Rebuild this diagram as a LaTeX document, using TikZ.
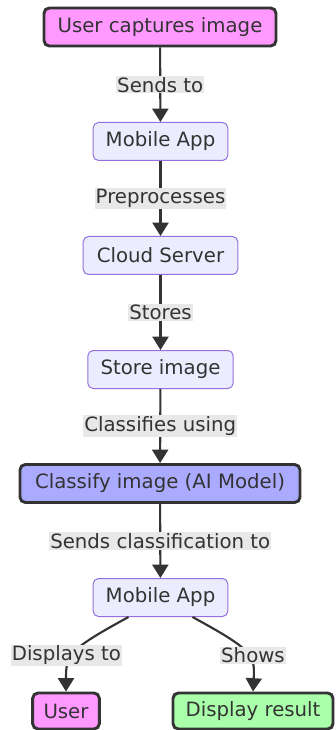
\documentclass[tikz,border=0pt]{standalone}
\usepackage{fontspec}
\setmainfont{DejaVu Sans}
\usetikzlibrary{arrows.meta,calc}
\definecolor{txt}{HTML}{333333}
\definecolor{pinkf}{HTML}{FF99FF}
\definecolor{bluef}{HTML}{AAAAFF}
\definecolor{greenf}{HTML}{AAFFAA}
\definecolor{mainf}{HTML}{ECECFF}
\definecolor{mainb}{HTML}{9370DB}
\definecolor{lblf}{HTML}{E8E8E8}
\tikzset{
  base/.style={rounded corners=4pt, inner sep=0pt, minimum height=28.5pt, text=txt, font=\fontsize{14.8pt}{16pt}\selectfont},
  plain/.style={base, draw=mainb, fill=mainf, line width=0.75pt},
  hot/.style={base, draw=txt, line width=2.2pt},
  lbl/.style={fill=lblf, text=txt, inner sep=0.8pt, font=\fontsize{14.8pt}{16pt}\selectfont},
  arr/.style={draw=txt, line width=1.6pt, -{Triangle[length=10pt,width=12pt]}}
}
\begin{document}
\begin{tikzpicture}[x=0.75pt,y=-0.75pt]
\useasboundingbox (0,0) rectangle (335,730);
\node[hot, fill=pinkf, minimum width=174pt] (cap) at (160,27) {User captures image};
\node[plain, minimum width=101pt] (ma1) at (160.5,141.5) {Mobile App};
\node[plain, minimum width=116pt] (cs) at (160.5,255.5) {Cloud Server};
\node[plain, minimum width=109pt] (si) at (160.5,369.5) {Store image};
\node[hot, fill=bluef, minimum width=210pt] (cl) at (160,483.5) {Classify image (AI Model)};
\node[plain, minimum width=101pt] (ma2) at (160.5,597.5) {Mobile App};
\node[hot, fill=pinkf, minimum width=50pt, minimum height=27pt] (usr) at (66,711) {User};
\node[hot, fill=greenf, minimum width=120pt, minimum height=27pt] (dr) at (253,711) {Display result};

\draw[arr] (cap) -- node[lbl]{Sends to} (ma1);
\draw[arr] (ma1) -- node[lbl]{Preprocesses} (cs);
\draw[arr] (cs) -- node[lbl]{Stores} (si);
\draw[arr] (si) -- node[lbl]{Classifies using} (cl);
\draw[arr] (cl) -- node[lbl]{Sends classification to} (ma2);

\coordinate (l1) at ([xshift=-24pt]ma2.south);
\coordinate (r1) at ([xshift=24pt]ma2.south);
\draw[arr] (l1) .. controls (68,650) and (66,655) .. node[lbl,pos=0.55,xshift=-4.5pt,yshift=0.5pt]{Displays to} (usr.north);
\draw[arr] (r1) .. controls (253,650) and (255,655) .. node[lbl,pos=0.55,xshift=3.5pt,yshift=0.5pt]{Shows} (dr.north);
\end{tikzpicture}
\end{document}
